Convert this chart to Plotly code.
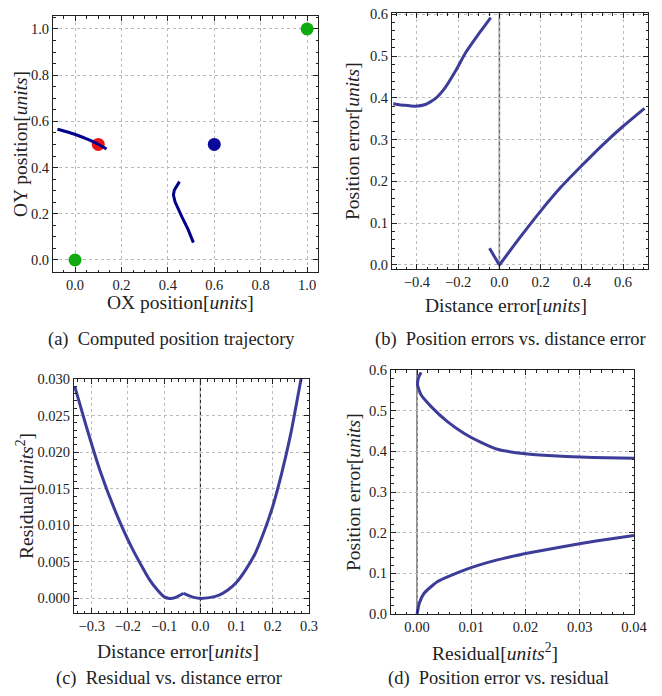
import plotly.graph_objects as go

FONT = 'Liberation Serif'
CURVE = '#3d3d99'
NAVY = '#00008b'
# the page body keeps its 8px margin, so the figure is drawn 8px smaller on each side
OFF = 8
W, H = 662 - 2 * OFF, 696 - 2 * OFF

# (a) computed position trajectory
traj1_x = [-0.076, -0.04, 0.007, 0.05, 0.1, 0.136]
traj1_y = [0.566, 0.556, 0.541, 0.524, 0.501, 0.480]
traj2_x = [0.45, 0.44, 0.428, 0.424, 0.431, 0.46, 0.488, 0.51]
traj2_y = [0.339, 0.325, 0.303, 0.281, 0.252, 0.188, 0.13, 0.075]
anchor_x = [0.0, 1.0]
anchor_y = [0.0, 1.0]
start_x, start_y = [0.1], [0.5]
true_x, true_y = [0.6], [0.5]

# (b) position error vs distance error
b_left_x = [-0.515, -0.46, -0.408, -0.359, -0.311, -0.262, -0.213, -0.164, -0.115, -0.075, -0.042]
b_left_y = [0.386, 0.382, 0.380, 0.384, 0.398, 0.425, 0.464, 0.508, 0.543, 0.570, 0.592]
b_tail_x = [-0.048, 0.0]
b_tail_y = [0.04, 0.0]
b_right_x = [0.0, 0.05, 0.1, 0.2, 0.3, 0.4, 0.5, 0.6, 0.704]
b_right_y = [0.0, 0.033, 0.066, 0.129, 0.187, 0.238, 0.287, 0.332, 0.375]

# (c) residual vs distance error
c_left_x = [-0.347, -0.315, -0.278, -0.233, -0.187, -0.141, -0.118, -0.1, -0.085, -0.07, -0.046]
c_left_y = [0.029, 0.0235, 0.0176, 0.0117, 0.0067, 0.0026, 0.0011, 0.0002, 0.0, 0.0001, 0.0007]
c_right_x = [-0.046, -0.03, -0.015, 0.0, 0.025, 0.05, 0.075, 0.1, 0.125, 0.15, 0.175, 0.2, 0.225, 0.25, 0.278]
c_right_y = [0.0007, 0.00035, 0.0001, 0.0, 0.0001, 0.0004, 0.0011, 0.0022, 0.0039, 0.0060, 0.0090,
             0.0126, 0.0172, 0.0226, 0.030]

# (d) position error vs residual
d_upper_x = [0.00074, 0.00025, 0.0001, 0.00074, 0.0026, 0.0056, 0.0087, 0.0118, 0.0148, 0.02, 0.025,
             0.03, 0.035, 0.04]
d_upper_y = [0.594, 0.58, 0.563, 0.539, 0.51, 0.473, 0.444, 0.422, 0.405, 0.394, 0.389, 0.386, 0.384, 0.383]
d_lower_x = [0.0, 0.0004, 0.0013, 0.0038, 0.0087, 0.0148, 0.021, 0.0271, 0.0333, 0.04]
d_lower_y = [0.0, 0.026, 0.051, 0.08, 0.108, 0.133, 0.151, 0.166, 0.18, 0.193]


def px_domain_x(left, right):
    return [(left - OFF) / W, (right - OFF) / W]


def px_domain_y(top, bottom):
    return [1 - (bottom - OFF) / H, 1 - (top - OFF) / H]


def frame_axis(rng, domain, anchor, dtick, minor_dtick, fmt):
    return dict(
        range=rng, domain=domain, anchor=anchor, automargin=False,
        tick0=0, dtick=dtick, tickformat=fmt, ticklabeloverflow='allow',
        showline=True, linecolor='#222', linewidth=1, mirror='allticks',
        ticks='inside', ticklen=5, tickcolor='#222', tickwidth=1,
        showgrid=True, gridcolor='#bbbbbb', griddash='dot', gridwidth=1,
        zeroline=False,
        minor=dict(dtick=minor_dtick, tick0=0, ticks='inside', ticklen=2.5,
                   tickcolor='#222', showgrid=False),
        tickfont=dict(family=FONT, size=14.5, color='#222'),
    )


def line(x, y, xa, ya, color=CURVE, width=3, shape='spline'):
    return go.Scatter(x=x, y=y, xaxis=xa, yaxis=ya, mode='lines',
                      line=dict(color=color, width=width, shape=shape, smoothing=0.5),
                      hoverinfo='skip')


fig = go.Figure()

# panel a
fig.add_trace(line(traj2_x, traj2_y, 'x', 'y', color=NAVY, shape='linear'))
fig.add_trace(go.Scatter(x=start_x, y=start_y, mode='markers', xaxis='x', yaxis='y',
                         marker=dict(color='#ee1111', size=13)))
fig.add_trace(line(traj1_x, traj1_y, 'x', 'y', color=NAVY))
fig.add_trace(go.Scatter(x=true_x, y=true_y, mode='markers', xaxis='x', yaxis='y',
                         marker=dict(color='#0a0a9a', size=13)))
fig.add_trace(go.Scatter(x=anchor_x, y=anchor_y, mode='markers', xaxis='x', yaxis='y',
                         marker=dict(color='#11aa11', size=13)))

# panel b
fig.add_trace(line(b_left_x, b_left_y, 'x2', 'y2'))
fig.add_trace(line(b_tail_x, b_tail_y, 'x2', 'y2', shape='linear'))
fig.add_trace(line(b_right_x, b_right_y, 'x2', 'y2'))

# panel c
fig.add_trace(line(c_left_x, c_left_y, 'x3', 'y3'))
fig.add_trace(line(c_right_x, c_right_y, 'x3', 'y3'))

# panel d
fig.add_trace(line(d_upper_x, d_upper_y, 'x4', 'y4'))
fig.add_trace(line(d_lower_x, d_lower_y, 'x4', 'y4'))

# vertical axes at zero
fig.add_shape(type='line', x0=0, x1=0, y0=0, y1=1, xref='x2', yref='y2 domain',
              line=dict(color='#666666', width=1.5), layer='below')
fig.add_shape(type='line', x0=0, x1=0, y0=0, y1=1, xref='x3', yref='y3 domain',
              line=dict(color='#111111', width=1), layer='below')
fig.add_shape(type='line', x0=0, x1=0, y0=0, y1=1, xref='x4', yref='y4 domain',
              line=dict(color='#666666', width=1.5), layer='below')

fig.update_layout(
    width=W, height=H,
    margin=dict(l=0, r=0, t=0, b=0),
    paper_bgcolor='white', plot_bgcolor='white',
    showlegend=False,
    font=dict(family=FONT, color='#222'),
    xaxis=frame_axis([-0.095, 1.047], px_domain_x(53, 318), 'y', 0.2, 0.05, '.1f'),
    yaxis=frame_axis([-0.052, 1.056], px_domain_y(16, 272), 'x', 0.2, 0.05, '.1f'),
    xaxis2=frame_axis([-0.521, 0.721], px_domain_x(392, 648), 'y2', 0.2, 0.05, '.1f'),
    yaxis2=frame_axis([-0.0096, 0.603], px_domain_y(13, 269), 'x2', 0.1, 0.02, '.1f'),
    xaxis3=frame_axis([-0.349, 0.3], px_domain_x(74, 309), 'y3', 0.1, 0.02, '.1f'),
    yaxis3=frame_axis([-0.002, 0.030], px_domain_y(379, 613), 'x3', 0.005, 0.001, '.3f'),
    xaxis4=frame_axis([-0.0048, 0.04], px_domain_x(391, 634), 'y4', 0.01, 0.002, '.2f'),
    yaxis4=frame_axis([0, 0.6], px_domain_y(370, 614), 'x4', 0.1, 0.02, '.1f'),
)

units = '[<i>units</i>]'
units2 = '[<i>units</i><sup>2</sup>]'
titles = [
    # text, x px, y px, angle, size (pixels of the page)
    ('OX position' + units, 180, 302, 0, 19.5),
    ('OY position' + units, 21, 144, -90, 19.5),
    ('Distance error' + units, 506, 305, 0, 19.5),
    ('Position error' + units, 353, 141, -90, 19.5),
    ('Distance error' + units, 178, 651, 0, 19.5),
    ('Residual' + units2, 25, 496, -90, 19.5),
    ('Residual' + units2, 495, 652, 0, 19.5),
    ('Position error' + units, 353, 492, -90, 19.5),
    ('(a)  Computed position trajectory', 171, 339, 0, 18.5),
    ('(b)  Position errors vs. distance error', 510, 339, 0, 18.5),
    ('(c)  Residual vs. distance error', 169, 678, 0, 18.5),
    ('(d)  Position error vs. residual', 498, 678, 0, 18.5),
]
for text, xp, yp, angle, size in titles:
    fig.add_annotation(text=text, x=(xp - OFF) / W, y=1 - (yp - OFF) / H, xref='paper', yref='paper',
                       xanchor='center', yanchor='middle', showarrow=False,
                       textangle=angle, font=dict(family=FONT, size=size, color='#222'))

fig.write_html("out.html")
